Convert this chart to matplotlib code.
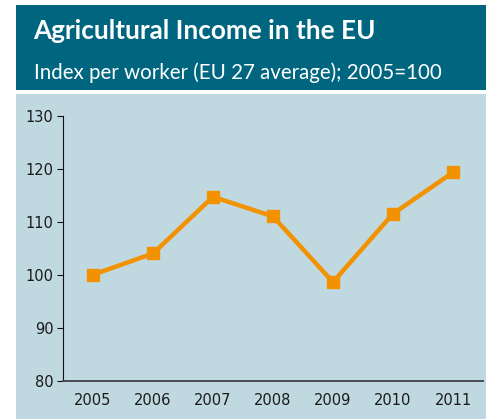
import matplotlib
matplotlib.use("Agg")
import matplotlib.pyplot as plt
from matplotlib.patches import Rectangle

years = ["2005", "2006", "2007", "2008", "2009", "2010", "2011"]
values = [100, 104, 114.7, 111, 98.6, 111.5, 119.3]
yticks = [80, 90, 100, 110, 120, 130]

W, H = 486, 419
fig = plt.figure(figsize=(W / 100, H / 100), dpi=100)
fig.patch.set_facecolor("white")

def fx(px):
    return px / W

def fy(py):
    return 1 - py / H

# header band
fig.patches.append(Rectangle((fx(16), fy(90.5)), fx(486) - fx(16), fy(5) - fy(90.5),
                             transform=fig.transFigure, facecolor="#00667f", edgecolor="none", zorder=-5))
# panel
fig.patches.append(Rectangle((fx(16), fy(419)), fx(486) - fx(16), fy(94) - fy(419),
                             transform=fig.transFigure, facecolor="#c0d9e0", edgecolor="none", zorder=-5))

fig.text(fx(33), fy(31), "Agricultural Income in the EU", color="white", fontsize=18.8,
         fontweight="bold", family="Lato", va="center", ha="left")
fig.text(fx(34), fy(73), "Index per worker (EU 27 average); 2005=100", color="white", fontsize=14.8,
         family="Lato", va="center", ha="left")

ax = fig.add_axes([fx(63), fy(380.7), fx(483) - fx(63), fy(115.7) - fy(380.7)])
ax.set_zorder(2)
ax.set_facecolor("none")
x = list(range(len(years)))
ax.plot(x, values, color="#f39200", lw=3.2, marker="s", markersize=9, zorder=3, clip_on=False)
ax.set_xlim(-0.5, len(years) - 0.5)
ax.set_ylim(80, 130)
ax.set_yticks(yticks)
ax.set_xticks(x)
ax.set_xticklabels(years)
for s in ["top", "right"]:
    ax.spines[s].set_visible(False)
ax.spines["left"].set_color("#111111")
ax.spines["bottom"].set_color("#444c50")
ax.spines["bottom"].set_linewidth(1.4)
ax.tick_params(axis="y", length=4, color="#111111", labelsize=10.5, labelcolor="#1a1a1a", pad=3,
               labelfontfamily="DejaVu Sans")
ax.tick_params(axis="x", length=0, labelsize=10.5, labelcolor="#1a1a1a", pad=9,
               labelfontfamily="DejaVu Sans")

fig.savefig("out.png", dpi=100, facecolor=fig.get_facecolor())
